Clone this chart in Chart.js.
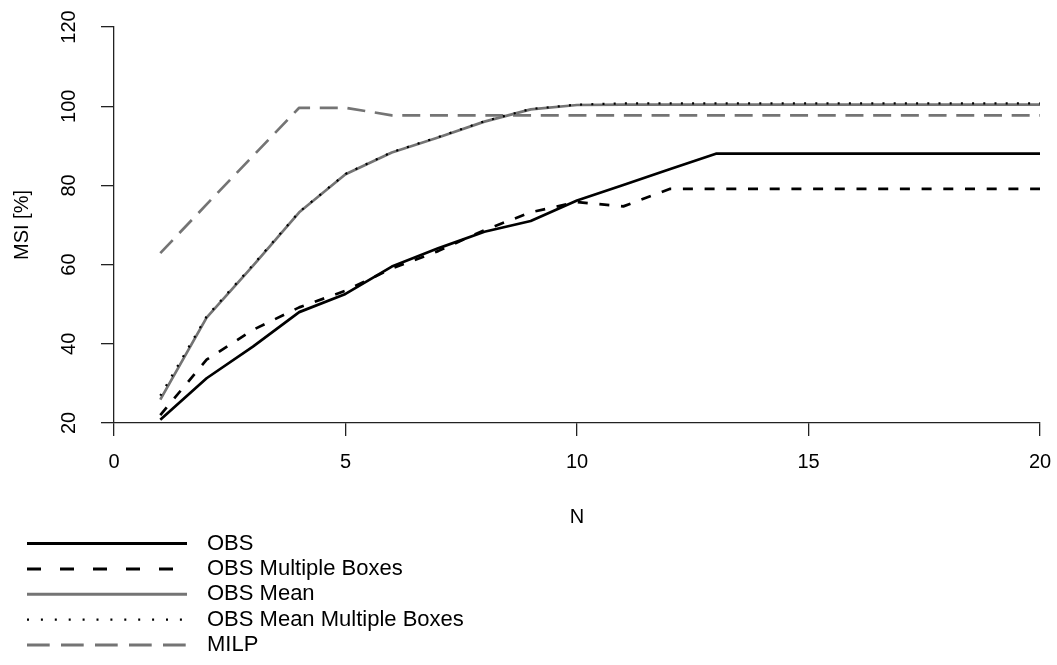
<!DOCTYPE html>
<html>
<head>
<meta charset="utf-8">
<script src="https://cdn.jsdelivr.net/npm/chart.js@4/dist/chart.umd.min.js"></script>
<style>
  html, body { margin: 0; padding: 0; background: #fff; }
  #wrap { width: 1057px; height: 665px; }
</style>
</head>
<body>
<div id="wrap"><canvas id="msiChart"></canvas></div>
<script>
const nValues = [1, 2, 3, 4, 5, 6, 7, 8, 9, 10, 11, 12, 13, 14, 15, 16, 17, 18, 19, 20];
const obs = [20.8, 31.3, 39.3, 48, 52.6, 59.5, 64.1, 68.3, 71, 76.2, 80.1, 84.1, 88, 88, 88, 88, 88, 88, 88, 88];
const obsMultipleBoxes = [22, 36, 43.5, 49.2, 53.4, 59, 63.4, 68.7, 73.2, 75.8, 74.7, 79.1, 79.1, 79.1, 79.1, 79.1, 79.1, 79.1, 79.1, 79.1];
const obsMean = [25.9, 46.6, 59.7, 73.2, 82.8, 88.3, 92.1, 96.1, 99.2, 100.3, 100.4, 100.4, 100.4, 100.4, 100.4, 100.4, 100.4, 100.4, 100.4, 100.4];
const obsMeanMultipleBoxes = [26.9, 46.9, 59.9, 73.3, 82.9, 88.4, 92.2, 96.2, 99.3, 100.4, 100.7, 100.7, 100.7, 100.7, 100.7, 100.7, 100.7, 100.7, 100.7, 100.7];
const milp = [62.9, 75.2, 87.4, 99.6, 99.6, 97.7, 97.7, 97.7, 97.7, 97.7, 97.7, 97.7, 97.7, 97.7, 97.7, 97.7, 97.7, 97.7, 97.7, 97.7];
const xTicks = [0, 5, 10, 15, 20];
const yTicks = [20, 40, 60, 80, 100, 120];

const GRAY = '#747474';
const FONT = 'Liberation Sans, Arial, Helvetica, sans-serif';

function points(ys) {
    return nValues.map((n, i) => ({ x: n, y: ys[i] }));
}

// R style legend stacked below the plot
const stackedLegend = {
    id: 'stackedLegend',
    afterDraw(chart) {
        const ctx = chart.ctx;
        const rowY = 543.5;
        const rowGap = 25.4;
        ctx.save();
        ctx.font = '22px ' + FONT;
        ctx.textBaseline = 'middle';
        ctx.textAlign = 'left';
        chart.data.datasets.forEach((ds, i) => {
            const y = rowY + i * rowGap;
            ctx.beginPath();
            ctx.strokeStyle = ds.borderColor;
            ctx.lineWidth = ds.legendWidth;
            ctx.setLineDash(ds.legendDash);
            ctx.moveTo(27, y);
            ctx.lineTo(187, y);
            ctx.stroke();
            ctx.setLineDash([]);
            ctx.fillStyle = '#000';
            ctx.fillText(ds.label, 207, y);
        });
        ctx.restore();
    }
};

const ctx = document.getElementById('msiChart').getContext('2d');
const msiChart = new Chart(ctx, {
    type: 'line',
    data: {
        datasets: [{
            label: 'OBS',
            data: points(obs),
            borderColor: '#000000',
            borderWidth: 2.7,
            order: 3,
            legendDash: [],
            legendWidth: 3
        }, {
            label: 'OBS Multiple Boxes',
            data: points(obsMultipleBoxes),
            borderColor: '#000000',
            borderWidth: 2.7,
            borderDash: [10, 11.7],
            order: 2,
            legendDash: [14, 19],
            legendWidth: 3
        }, {
            label: 'OBS Mean',
            data: points(obsMean),
            borderColor: GRAY,
            borderWidth: 2.7,
            order: 4,
            legendDash: [],
            legendWidth: 3
        }, {
            label: 'OBS Mean Multiple Boxes',
            data: points(obsMeanMultipleBoxes),
            borderColor: '#000000',
            borderWidth: 2.2,
            borderDash: [2, 9.2],
            order: 1,
            legendDash: [2, 11.9],
            legendWidth: 2.2
        }, {
            label: 'MILP',
            data: points(milp),
            borderColor: GRAY,
            borderWidth: 2.7,
            borderDash: [18, 9.7],
            order: 5,
            legendDash: [22.7, 11.3],
            legendWidth: 3
        }]
    },
    options: {
        responsive: true,
        maintainAspectRatio: false,
        animation: false,
        events: [],
        elements: {
            point: { radius: 0 },
            line: { tension: 0, borderCapStyle: 'butt', borderJoinStyle: 'round' }
        },
        layout: {
            padding: { left: 0, right: 17, top: 27, bottom: 132 }
        },
        plugins: {
            legend: { display: false },
            tooltip: { enabled: false }
        },
        scales: {
            x: {
                type: 'linear',
                min: 0,
                max: 20,
                afterBuildTicks: (axis) => { axis.ticks = xTicks.map(v => ({ value: v })); },
                afterFit: (axis) => {
                    axis.height = 110;
                    axis.paddingLeft = 0;
                    axis.paddingRight = 0;
                },
                grid: { display: true, drawOnChartArea: false, drawTicks: true, tickLength: 13, color: '#222', lineWidth: 1.3 },
                border: { display: true, color: '#222', width: 1.3 },
                ticks: { color: '#000', padding: 14, font: { size: 20, family: FONT }, maxRotation: 0 },
                title: { display: true, text: 'N', color: '#000', font: { size: 20, family: FONT }, padding: { top: 0, bottom: 4 } }
            },
            y: {
                type: 'linear',
                min: 20,
                max: 120,
                afterBuildTicks: (axis) => { axis.ticks = yTicks.map(v => ({ value: v })); },
                afterFit: (axis) => {
                    axis.width = 114;
                    axis.paddingTop = 0;
                    axis.paddingBottom = 0;
                },
                grid: { display: true, drawOnChartArea: false, drawTicks: true, tickLength: 13, color: '#222', lineWidth: 1.3 },
                border: { display: true, color: '#222', width: 1.3 },
                ticks: { color: '#000', padding: 15, crossAlign: 'center', minRotation: 90, maxRotation: 90, font: { size: 20, family: FONT } },
                title: { display: true, text: 'MSI [%]', color: '#000', font: { size: 20, family: FONT }, padding: { top: 10, bottom: 0 } }
            }
        }
    },
    plugins: [stackedLegend]
});
</script>
</body>
</html>
